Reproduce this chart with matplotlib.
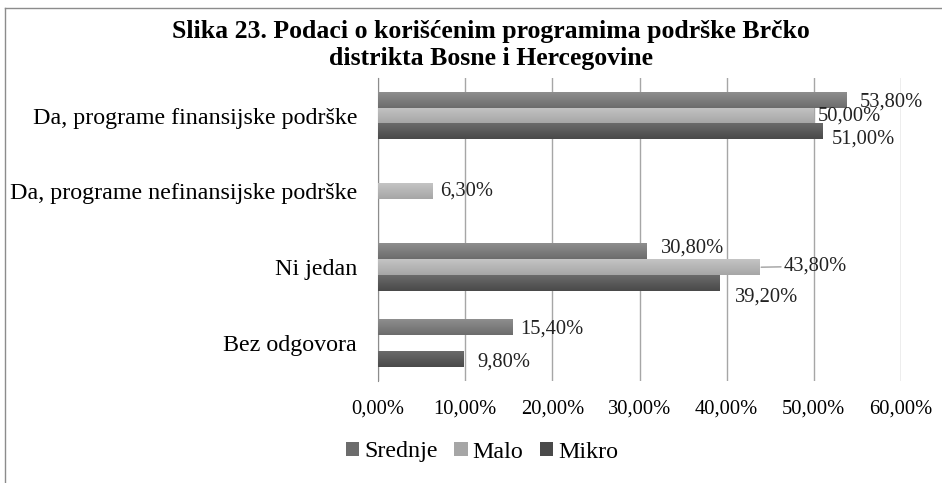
import numpy as np
import matplotlib.pyplot as plt
from matplotlib.lines import Line2D
from matplotlib.patches import Patch
from matplotlib.colors import LinearSegmentedColormap

plt.rcParams['font.family'] = ['Liberation Serif', 'DejaVu Serif']

categories = ['Da, programe finansijske podrške',
              'Da, programe nefinansijske podrške',
              'Ni jedan',
              'Bez odgovora']
series = ['Srednje', 'Malo', 'Mikro']
srednje = [53.8, None, 30.8, 15.4]
malo = [50.0, 6.3, 43.8, None]
mikro = [51.0, None, 39.2, 9.8]
xticks = [0, 10, 20, 30, 40, 50, 60]

# (top colour, bottom colour) for the gradient fill of each series
colors = {'Srednje': ('#8e8e8e', '#6c6c6c'),
          'Malo': ('#c4c4c4', '#a6a6a6'),
          'Mikro': ('#6a6a6a', '#4a4a4a')}
# label offsets in pixels (dx, dy) per series/category
offsets = {'Srednje': [(13, -2), None, (14, 3), (8, -1.5)],
           'Malo': [(4, -1), (7, 0), (24, 1), None],
           'Mikro': [(9, -7.5), None, (15, -14), (14, -3)]}

fig = plt.figure(figsize=(9.42, 4.83), dpi=100)
ax = fig.add_axes([378 / 942, 1 - 381 / 483, (901 - 378) / 942, (381 - 77.6) / 483])

h = 0.21
y = np.arange(len(categories))
data = {'Srednje': srednje, 'Malo': malo, 'Mikro': mikro}

grad = np.linspace(0, 1, 64).reshape(-1, 1)
for k, name in enumerate(series):
    vals = data[name]
    cmap = LinearSegmentedColormap.from_list(name, list(colors[name]))
    for i, v in enumerate(vals):
        if v is None:
            continue
        yc = y[i] + (k - 1) * h
        bar = ax.barh(yc, v, height=h, color=colors[name][0], linewidth=0, zorder=2)[0]
        im = ax.imshow(grad, extent=[0, v, yc + h / 2, yc - h / 2], cmap=cmap,
                       aspect='auto', zorder=3, interpolation='bilinear')
        im.set_clip_path(bar)
        dx, dy = offsets[name][i]
        lbl = f'{v:.2f}'.replace('.', ',') + '%'
        if name == 'Malo' and i == 2:
            ax.annotate(lbl, xy=(v, yc), xytext=(dx, dy), textcoords='offset pixels',
                        va='center', ha='left', fontsize=14.8, color='#222222', zorder=5,
                        arrowprops=dict(arrowstyle='-', color='#a0a0a0', lw=1,
                                        shrinkA=0, shrinkB=1))
        else:
            ax.annotate(lbl, xy=(v, yc), xytext=(dx, dy), textcoords='offset pixels',
                        va='center', ha='left', fontsize=14.8, color='#222222', zorder=5)

ax.set_xlim(0, 60)
ax.set_ylim(3.5, -0.5)
ax.set_xticks(xticks)
ax.set_xticklabels([f'{t:.2f}'.replace('.', ',') + '%' for t in xticks], fontsize=14.8)
ax.set_yticks(y)
ax.set_yticklabels(categories, fontsize=17.3)
ax.tick_params(axis='x', length=0, pad=13)
ax.tick_params(axis='y', length=0, pad=15)
ax.grid(axis='x', color='#a6a6a6', lw=1, zorder=0)
for s in ['top', 'right', 'bottom']:
    ax.spines[s].set_visible(False)
ax.spines['left'].set_color('#8c8c8c')

fig.text(491 / 942, 1 - 45 / 483,
         'Slika 23. Podaci o korišćenim programima podrške Brčko\ndistrikta Bosne i Hercegovine',
         ha='center', va='center', fontsize=18.5, fontweight='bold', linespacing=1.2)

handles = [Patch(facecolor=colors[n][1], label=n) for n in series]
fig.legend(handles=handles, loc='center', bbox_to_anchor=(482 / 942, 1 - 452 / 483),
           ncol=3, frameon=False, fontsize=17.3, handlelength=0.55, handleheight=0.55,
           handletextpad=0.2, columnspacing=0.7)

# chart area border
fig.add_artist(Line2D([5 / 942, 5 / 942], [0, 1 - 8 / 483], color='#8c8c8c', lw=1))
fig.add_artist(Line2D([5 / 942, 1], [1 - 8 / 483, 1 - 8 / 483], color='#8c8c8c', lw=1))

fig.savefig('out.png', dpi=100, facecolor='white')
